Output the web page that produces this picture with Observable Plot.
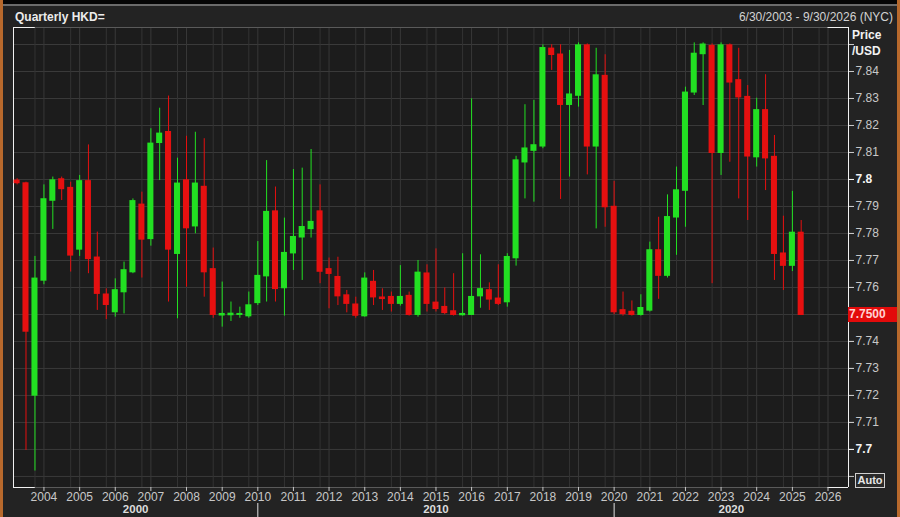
<!DOCTYPE html>
<html><head><meta charset="utf-8">
<script src="https://cdn.jsdelivr.net/npm/d3@7"></script>
<script src="https://cdn.jsdelivr.net/npm/@observablehq/plot@0.6"></script>
<style>
html,body{margin:0;padding:0;background:#232323;width:900px;height:517px;overflow:hidden;font-family:"Liberation Sans",Arial,sans-serif;}
#wrap{position:relative;width:900px;height:517px;background:#232323;}
#wrap svg{position:absolute;left:0;top:0;}
.abs{position:absolute;white-space:nowrap;}
#topband{left:0;top:0;width:900px;height:4px;background:#050505;}
#topline{left:0;top:4px;width:900px;height:2px;background:#6b6b6b;}
#lb{left:0;top:0;width:3px;height:517px;background:#b8692c;}
#rb{left:897px;top:0;width:3px;height:517px;background:#b8692c;}
#title{left:15px;top:10px;font-size:12px;font-weight:bold;color:#ececec;}
#range{right:7px;top:10px;font-size:12px;color:#d2d2d2;}
#price{left:852px;top:27px;font-size:12px;font-weight:bold;color:#f2f2f2;line-height:16px;}
#tag{left:848px;width:50px;height:15px;background:#e30b0b;color:#ffd2d2;font-size:12px;font-weight:bold;line-height:15px;text-align:left;padding-left:1px;box-sizing:border-box;}
#auto{left:855px;top:473px;width:30px;height:15px;border:1px solid #cfcfcf;box-sizing:border-box;color:#e6e6e6;font-size:11px;font-weight:bold;line-height:13px;text-align:center;background:#2a2a2a;}
</style></head><body><div id="wrap">
<div class="abs" id="topband"></div><div class="abs" id="topline"></div>
<div class="abs" id="title">Quarterly HKD=</div>
<div class="abs" id="range">6/30/2003 - 9/30/2026 (NYC)</div>
</div>
<script>
// Quarter start of each candle
const quarters = [
"2003-04","2003-07","2003-10",
"2004-01","2004-04","2004-07","2004-10",
"2005-01","2005-04","2005-07","2005-10",
"2006-01","2006-04","2006-07","2006-10",
"2007-01","2007-04","2007-07","2007-10",
"2008-01","2008-04","2008-07","2008-10",
"2009-01","2009-04","2009-07","2009-10",
"2010-01","2010-04","2010-07","2010-10",
"2011-01","2011-04","2011-07","2011-10",
"2012-01","2012-04","2012-07","2012-10",
"2013-01","2013-04","2013-07","2013-10",
"2014-01","2014-04","2014-07","2014-10",
"2015-01","2015-04","2015-07","2015-10",
"2016-01","2016-04","2016-07","2016-10",
"2017-01","2017-04","2017-07","2017-10",
"2018-01","2018-04","2018-07","2018-10",
"2019-01","2019-04","2019-07","2019-10",
"2020-01","2020-04","2020-07","2020-10",
"2021-01","2021-04","2021-07","2021-10",
"2022-01","2022-04","2022-07","2022-10",
"2023-01","2023-04","2023-07","2023-10",
"2024-01","2024-04","2024-07","2024-10",
"2025-01","2025-04"];

const opens = [
7.7995,7.7985,7.7200,
7.7626,7.7922,7.8000,7.7968,
7.7741,7.7993,7.7710,7.7573,
7.7509,7.7583,7.7657,7.7906,
7.7780,7.8136,7.8175,7.7725,
7.7996,7.7827,7.7972,7.7667,
7.7497,7.7498,7.7499,7.7494,
7.7543,7.7642,7.7881,7.7598,
7.7727,7.7786,7.7817,7.7881,
7.7667,7.7638,7.7570,7.7536,
7.7494,7.7620,7.7562,7.7564,
7.7540,7.7568,7.7499,7.7651,
7.7543,7.7527,7.7511,7.7498,
7.7499,7.7568,7.7589,7.7558,
7.7546,7.7709,7.8064,7.8107,
7.8123,7.8484,7.8462,7.8277,
7.8311,7.8496,7.8123,7.8383,
7.7898,7.7515,7.7509,7.7499,
7.7515,7.7737,7.7644,7.7860,
7.7959,7.8323,7.8465,7.8494,
7.8099,7.8496,7.8367,7.8305,
7.8083,7.8256,7.8083,7.7725,
7.7681,7.7802];

const highs = [
7.8003,7.7990,7.7715,
7.7980,7.8009,7.8009,7.7990,
7.8015,7.8128,7.7805,7.7595,
7.7632,7.7694,7.7928,7.7953,
7.8188,7.8264,7.8309,7.8079,
7.8160,7.8175,7.8151,7.7746,
7.7620,7.7546,7.7527,7.7583,
7.7770,7.8070,7.7972,7.7857,
7.8037,7.8042,7.8111,7.7980,
7.7709,7.7712,7.7589,7.7564,
7.7654,7.7663,7.7595,7.7583,
7.7681,7.7583,7.7700,7.7684,
7.7743,7.7598,7.7651,7.7725,
7.8299,7.7721,7.7617,7.7684,
7.7725,7.8086,7.8277,7.8293,
7.8499,7.8499,7.8499,7.8478,
7.8506,7.8502,7.8486,7.8462,
7.7993,7.7583,7.7550,7.7573,
7.7768,7.7860,7.7943,7.8046,
7.8342,7.8506,7.8506,7.8502,
7.8506,7.8502,7.8486,7.8348,
7.8301,7.8388,7.8163,7.7864,
7.7956,7.7848];

const lows = [
7.7980,7.6996,7.6920,
7.7610,7.7815,7.7922,7.7657,
7.7715,7.7651,7.7515,7.7481,
7.7490,7.7502,7.7651,7.7635,
7.7753,7.7996,7.7546,7.7484,
7.7601,7.7799,7.7564,7.7486,
7.7453,7.7474,7.7486,7.7486,
7.7533,7.7546,7.7546,7.7494,
7.7663,7.7626,7.7783,7.7614,
7.7521,7.7533,7.7506,7.7486,
7.7490,7.7533,7.7515,7.7509,
7.7531,7.7494,7.7490,7.7509,
7.7509,7.7499,7.7494,7.7494,
7.7496,7.7523,7.7515,7.7533,
7.7527,7.7679,7.7928,7.7916,
7.8114,7.8404,7.7926,7.8009,
7.8268,7.8017,7.7817,7.7823,
7.7499,7.7494,7.7494,7.7494,
7.7509,7.7556,7.7635,7.7719,
7.7823,7.8311,7.8274,7.7614,
7.8015,7.8064,7.7928,7.7848,
7.8046,7.7959,7.7626,7.7589,
7.7659,7.7496];

const closes = [
7.7987,7.7437,7.7632,
7.7926,7.7996,7.7965,7.7719,
7.7993,7.7706,7.7577,7.7536,
7.7589,7.7663,7.7919,7.7778,
7.8132,7.8169,7.7741,7.7984,
7.7820,7.7984,7.7657,7.7499,
7.7501,7.7502,7.7501,7.7533,
7.7642,7.7879,7.7595,7.7727,
7.7786,7.7823,7.7842,7.7659,
7.7651,7.7568,7.7540,7.7496,
7.7632,7.7564,7.7558,7.7540,
7.7564,7.7499,7.7654,7.7540,
7.7521,7.7506,7.7499,7.7501,
7.7564,7.7593,7.7556,7.7540,
7.7712,7.8070,7.8114,7.8126,
7.8486,7.8462,7.8277,7.8314,
7.8496,7.8123,7.8385,7.7898,
7.7509,7.7502,7.7499,7.7523,
7.7737,7.7644,7.7860,7.7959,
7.8321,7.8465,7.8499,7.8099,
7.8496,7.8360,7.8305,7.8086,
7.8256,7.8079,7.7725,7.7681,
7.7802,7.7499];

// axis tick values and labels
const yTicks = [7.69,7.70,7.71,7.72,7.73,7.74,7.75,7.76,7.77,7.78,7.79,7.80,7.81,7.82,7.83,7.84,7.85];
const yLabelTicks = [7.71,7.72,7.73,7.74,7.76,7.77,7.78,7.79,7.81,7.82,7.83,7.84];
const yBoldTicks = [7.70,7.80];
const yearLabels = ["2004","2005","2006","2007","2008","2009","2010","2011","2012","2013","2014","2015",
  "2016","2017","2018","2019","2020","2021","2022","2023","2024","2025","2026"];
const decadeLabels = ["2000","2010","2020"];
const xDomainStr = ["2003-02-23","2026-07-30"];
const yDomain = [7.6859, 7.8563];
const lastPrice = "7.7500";

const parseQ = d3.utcParse("%Y-%m");
const parseD = d3.utcParse("%Y-%m-%d");
const parseY = d3.utcParse("%Y");
const data = quarters.map((q, i) => ({date: parseQ(q), open: opens[i], high: highs[i], low: lows[i], close: closes[i]}));
const up = data.filter(d => d.close >= d.open);
const down = data.filter(d => d.close < d.open);
const xDomain = xDomainStr.map(parseD);
const years = yearLabels.map(parseY);
const octs = years.map(d => d3.utcMonth.offset(d, -3));
const decades = decadeLabels.map(l => {
  const s = parseY(l), e = d3.utcYear.offset(s, 10);
  const a = Math.max(+s, +xDomain[0]), b = Math.min(+e, +xDomain[1]);
  return {label: l, mid: new Date((a + b) / 2), start: s};
});
const GREEN = "#22e022", RED = "#e61010";
const x1f = d => d3.utcDay.offset(d.date, -31);
const x2f = d => d3.utcDay.offset(d.date, 31);
const cornerL = parseD("2003-10-04"), cornerR = parseD("2026-01-01");

const plot = Plot.plot({
  width: 900, height: 517,
  marginLeft: 13, marginRight: 52, marginTop: 27, marginBottom: 30,
  style: {background: "transparent", fontFamily: "'Liberation Sans', Arial, sans-serif", fontSize: "12px", overflow: "visible"},
  x: {type: "utc", domain: xDomain, axis: null},
  y: {domain: yDomain, axis: null},
  marks: [
    Plot.frame({fill: "#1c1c1c", stroke: null}),
    Plot.gridY(yTicks, {stroke: "#3a3a3a", strokeOpacity: 1}),
    Plot.gridX(years, {stroke: "#383838", strokeOpacity: 1}),
    Plot.gridX(octs, {stroke: "#333333", strokeOpacity: 1}),
    Plot.ruleY([yDomain[0], yDomain[1]], {stroke: "#5a5a5a"}),
    Plot.ruleY([yDomain[0], yDomain[1]], {x1: xDomain[0], x2: cornerL, stroke: "#f0f0f0"}),
    Plot.ruleY([yDomain[0], yDomain[1]], {x1: cornerR, x2: xDomain[1], stroke: "#f0f0f0"}),
    Plot.ruleX([xDomain[0], xDomain[1]], {stroke: "#f0f0f0"}),
    Plot.ruleX(up, {x: "date", y1: "low", y2: "high", stroke: GREEN, strokeWidth: 1}),
    Plot.ruleX(down, {x: "date", y1: "low", y2: "high", stroke: RED, strokeWidth: 1}),
    Plot.rect(up, {x1: x1f, x2: x2f, y1: "open", y2: "close", fill: GREEN, insetTop: -0.75, insetBottom: -0.75}),
    Plot.rect(down, {x1: x1f, x2: x2f, y1: "open", y2: "close", fill: RED, insetTop: -0.75, insetBottom: -0.75}),
    Plot.axisX(years, {anchor: "bottom", tickSize: 4, tickPadding: 1, tickFormat: d3.utcFormat("%Y"), color: "#c8c8c8", fontSize: 12, label: null}),
    Plot.axisX(decades.slice(1).map(d => d.start), {anchor: "bottom", tickSize: 14, dy: 16, tickFormat: () => "", color: "#e0e0e0", label: null}),
    Plot.text(decades, {x: "mid", text: "label", frameAnchor: "bottom", dy: 25, fontWeight: "bold", fill: "#dcdcdc", fontSize: 11.5}),
    Plot.axisY(yTicks, {anchor: "right", tickSize: 5, tickPadding: 2, tickFormat: () => "", color: "#c8c8c8", label: null}),
    Plot.axisY(yLabelTicks, {anchor: "right", tickSize: 5, tickPadding: 2, tickFormat: d => d.toFixed(2), color: "#c8c8c8", fontSize: 12, label: null}),
    Plot.axisY(yBoldTicks, {anchor: "right", tickSize: 5, tickPadding: 2, tickFormat: d => String(+d.toFixed(2)), color: "#f4f4f4", fontWeight: "bold", fontSize: 12, label: null})
  ]
});
const wrap = document.getElementById("wrap");
wrap.insertBefore(plot, wrap.firstChild);

function addDiv(id, html, css) {
  const el = document.createElement("div");
  el.className = "abs"; el.id = id; el.innerHTML = html;
  if (css) Object.assign(el.style, css);
  wrap.appendChild(el);
  return el;
}
addDiv("price", "Price<br>/USD");
const yTag = plot.scale("y").apply(closes[closes.length - 1]);
addDiv("tag", lastPrice, {top: (yTag - 7.5) + "px"});
addDiv("auto", "Auto");
addDiv("lb", "");
addDiv("rb", "");
</script></body></html>
